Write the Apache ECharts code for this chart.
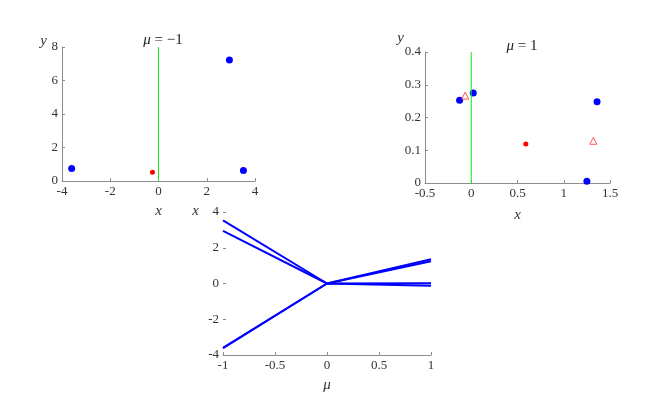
<!DOCTYPE html>
<html>
<head>
<meta charset="utf-8">
<script src="https://cdn.jsdelivr.net/npm/echarts@6/dist/echarts.min.js"></script>
<style>
  html, body { margin: 0; padding: 0; background: #fff; }
  #main { width: 662px; height: 414px; }
</style>
</head>
<body>
<div id="main"></div>
<script>
// top-left panel (mu = -1)
var leftBlue = [[-3.6, 0.74], [2.94, 7.22], [3.52, 0.62]];
var leftRed = [[-0.25, 0.52]];
var leftGreen = [[0, 0], [0, 8]];

// top-right panel (mu = 1)
var rightBlue = [[-0.126, 0.253], [0.022, 0.275], [1.36, 0.248], [1.25, 0.005]];
var rightRed = [[0.59, 0.119]];
var rightTri = [[-0.065, 0.267], [1.32, 0.129]];
var rightGreen = [[0, 0], [0, 0.4]];

// bottom panel: branches x(mu)
var muVals = [-1, 0, 1];
var branches = [
  [3.53, 0, 1.36],
  [2.94, 0, 1.25],
  [-3.62, 0, 0.02],
  [-3.6, 0, -0.13]
];

var serif = 'Liberation Serif';
var axisCol = '#8c8c8c';
var txtCol = '#333';

function xAx(idx, min, max, interval, name, gap) {
  return {
    gridIndex: idx, type: 'value', min: min, max: max, interval: interval,
    name: name, nameLocation: 'middle', nameGap: gap,
    nameTextStyle: { fontFamily: serif, fontStyle: 'italic', fontSize: 15, color: txtCol },
    axisLine: { show: true, onZero: false, lineStyle: { color: axisCol } },
    axisTick: { show: true, inside: true, length: 3, lineStyle: { color: axisCol } },
    axisLabel: { fontFamily: serif, fontSize: 13, color: txtCol, margin: 4 },
    splitLine: { show: false }
  };
}
function yAx(idx, min, max, interval, name, pad, gap, showLine) {
  return {
    gridIndex: idx, type: 'value', min: min, max: max, interval: interval,
    name: name, nameLocation: 'end', nameGap: gap,
    nameTextStyle: { fontFamily: serif, fontStyle: 'italic', fontSize: 15, color: txtCol,
      align: 'right', verticalAlign: 'middle', padding: [0, pad, 0, 0] },
    axisLine: { show: showLine, onZero: false, lineStyle: { color: axisCol } },
    axisTick: { show: true, inside: true, length: 3, lineStyle: { color: axisCol } },
    axisLabel: { fontFamily: serif, fontSize: 13, color: txtCol, margin: 4 },
    splitLine: { show: false }
  };
}

var series = [
  { type: 'line', xAxisIndex: 0, yAxisIndex: 0, data: leftGreen, symbol: 'none',
    lineStyle: { color: '#11ee11', width: 1 } },
  { type: 'scatter', xAxisIndex: 0, yAxisIndex: 0, data: leftBlue, symbolSize: 7,
    itemStyle: { color: '#0000ff', opacity: 1 } },
  { type: 'scatter', xAxisIndex: 0, yAxisIndex: 0, data: leftRed, symbolSize: 5,
    itemStyle: { color: '#ff0000', opacity: 1 } },
  { type: 'line', xAxisIndex: 1, yAxisIndex: 1, data: rightGreen, symbol: 'none',
    lineStyle: { color: '#11ee11', width: 1 } },
  { type: 'scatter', xAxisIndex: 1, yAxisIndex: 1, data: rightBlue, symbolSize: 7,
    itemStyle: { color: '#0000ff', opacity: 1 } },
  { type: 'scatter', xAxisIndex: 1, yAxisIndex: 1, data: rightRed, symbolSize: 5,
    itemStyle: { color: '#ff0000', opacity: 1 } },
  { type: 'scatter', xAxisIndex: 1, yAxisIndex: 1, data: rightTri, symbol: 'triangle', symbolSize: 7,
    itemStyle: { color: 'rgba(0,0,0,0)', borderColor: '#ff5555', borderWidth: 1, opacity: 1 } }
];
branches.forEach(function (b) {
  series.push({
    type: 'line', xAxisIndex: 2, yAxisIndex: 2, symbol: 'none',
    data: muVals.map(function (m, i) { return [m, b[i]]; }),
    lineStyle: { color: '#0000ff', width: 2 }
  });
});

var titleStyle = { fontFamily: serif, fontSize: 15, fontWeight: 'normal', color: '#222',
  rich: { i: { fontFamily: serif, fontStyle: 'italic', fontSize: 15, color: '#222' } } };

var chart = echarts.init(document.getElementById('main'));
chart.setOption({
  animation: false,
  backgroundColor: '#fff',
  title: [
    { text: '{i|μ} = −1', left: 158, top: 28, textAlign: 'center', textStyle: titleStyle },
    { text: '{i|μ} = 1', left: 517, top: 34, textAlign: 'center', textStyle: titleStyle }
  ],
  grid: [
    { left: 62, top: 47, width: 193, height: 134 },
    { left: 425, top: 52, width: 185, height: 131 },
    { left: 223, top: 212, width: 208, height: 143 }
  ],
  xAxis: [
    xAx(0, -4, 4, 2, 'x', 23),
    xAx(1, -0.5, 1.5, 0.5, 'x', 25),
    xAx(2, -1, 1, 0.5, 'μ', 23)
  ],
  yAxis: [
    yAx(0, 0, 8, 2, 'y', 15, 6, true),
    yAx(1, 0, 0.4, 0.1, 'y', 21, 10, true),
    yAx(2, -4, 4, 2, 'x', 24, 1, false)
  ],
  series: series
});
</script>
</body>
</html>
